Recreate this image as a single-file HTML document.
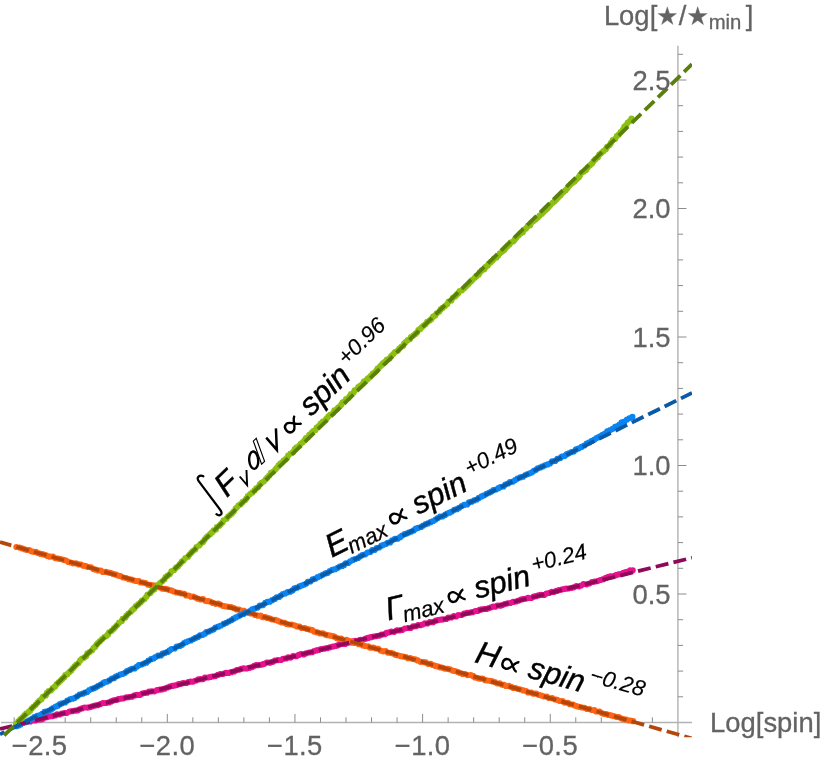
<!DOCTYPE html>
<html><head><meta charset="utf-8"><title>plot</title>
<style>html,body{margin:0;padding:0;background:#fff;}body{width:822px;height:763px;position:relative;overflow:hidden;font-family:"Liberation Sans",sans-serif;}</style></head>
<body>
<svg width="822" height="763" viewBox="0 0 822 763" style="position:absolute;left:0;top:0;will-change:transform">
<defs><clipPath id="cp"><rect x="-5" y="35.7" width="697.0" height="701.5"/></clipPath></defs>
<g stroke="#b2b2b2" stroke-width="1.4" fill="none">
<line x1="1" y1="722.5" x2="692.0" y2="722.5"/>
<line x1="677.9" y1="45.7" x2="677.9" y2="737.2"/>
</g>
<g stroke="#8c8c8c" stroke-width="1" fill="none">
<line x1="14.12" y1="722.5" x2="14.12" y2="717.30"/>
<line x1="39.65" y1="722.5" x2="39.65" y2="713.90"/>
<line x1="65.18" y1="722.5" x2="65.18" y2="717.30"/>
<line x1="90.71" y1="722.5" x2="90.71" y2="717.30"/>
<line x1="116.24" y1="722.5" x2="116.24" y2="717.30"/>
<line x1="141.77" y1="722.5" x2="141.77" y2="717.30"/>
<line x1="167.30" y1="722.5" x2="167.30" y2="713.90"/>
<line x1="192.83" y1="722.5" x2="192.83" y2="717.30"/>
<line x1="218.36" y1="722.5" x2="218.36" y2="717.30"/>
<line x1="243.89" y1="722.5" x2="243.89" y2="717.30"/>
<line x1="269.42" y1="722.5" x2="269.42" y2="717.30"/>
<line x1="294.95" y1="722.5" x2="294.95" y2="713.90"/>
<line x1="320.48" y1="722.5" x2="320.48" y2="717.30"/>
<line x1="346.01" y1="722.5" x2="346.01" y2="717.30"/>
<line x1="371.54" y1="722.5" x2="371.54" y2="717.30"/>
<line x1="397.07" y1="722.5" x2="397.07" y2="717.30"/>
<line x1="422.60" y1="722.5" x2="422.60" y2="713.90"/>
<line x1="448.13" y1="722.5" x2="448.13" y2="717.30"/>
<line x1="473.66" y1="722.5" x2="473.66" y2="717.30"/>
<line x1="499.19" y1="722.5" x2="499.19" y2="717.30"/>
<line x1="524.72" y1="722.5" x2="524.72" y2="717.30"/>
<line x1="550.25" y1="722.5" x2="550.25" y2="713.90"/>
<line x1="575.78" y1="722.5" x2="575.78" y2="717.30"/>
<line x1="601.31" y1="722.5" x2="601.31" y2="717.30"/>
<line x1="626.84" y1="722.5" x2="626.84" y2="717.30"/>
<line x1="652.37" y1="722.5" x2="652.37" y2="717.30"/>
<line x1="677.9" y1="696.80" x2="683.10" y2="696.80"/>
<line x1="677.9" y1="671.10" x2="683.10" y2="671.10"/>
<line x1="677.9" y1="645.40" x2="683.10" y2="645.40"/>
<line x1="677.9" y1="619.70" x2="683.10" y2="619.70"/>
<line x1="677.9" y1="594.00" x2="686.50" y2="594.00"/>
<line x1="677.9" y1="568.30" x2="683.10" y2="568.30"/>
<line x1="677.9" y1="542.60" x2="683.10" y2="542.60"/>
<line x1="677.9" y1="516.90" x2="683.10" y2="516.90"/>
<line x1="677.9" y1="491.20" x2="683.10" y2="491.20"/>
<line x1="677.9" y1="465.50" x2="686.50" y2="465.50"/>
<line x1="677.9" y1="439.80" x2="683.10" y2="439.80"/>
<line x1="677.9" y1="414.10" x2="683.10" y2="414.10"/>
<line x1="677.9" y1="388.40" x2="683.10" y2="388.40"/>
<line x1="677.9" y1="362.70" x2="683.10" y2="362.70"/>
<line x1="677.9" y1="337.00" x2="686.50" y2="337.00"/>
<line x1="677.9" y1="311.30" x2="683.10" y2="311.30"/>
<line x1="677.9" y1="285.60" x2="683.10" y2="285.60"/>
<line x1="677.9" y1="259.90" x2="683.10" y2="259.90"/>
<line x1="677.9" y1="234.20" x2="683.10" y2="234.20"/>
<line x1="677.9" y1="208.50" x2="686.50" y2="208.50"/>
<line x1="677.9" y1="182.80" x2="683.10" y2="182.80"/>
<line x1="677.9" y1="157.10" x2="683.10" y2="157.10"/>
<line x1="677.9" y1="131.40" x2="683.10" y2="131.40"/>
<line x1="677.9" y1="105.70" x2="683.10" y2="105.70"/>
<line x1="677.9" y1="80.00" x2="686.50" y2="80.00"/>
<line x1="677.9" y1="54.30" x2="683.10" y2="54.30"/>
</g>
<g clip-path="url(#cp)" fill="none">
<path d="M16.5 724.7h.01M18.7 724.5h.01M20.8 723.9h.01M23.0 722.8h.01M25.6 722.2h.01M28.0 721.6h.01M30.2 721.4h.01M33.0 720.4h.01M35.4 720.4h.01M38.3 719.6h.01M40.9 719.4h.01M42.9 718.8h.01M45.0 717.5h.01M47.2 717.1h.01M50.0 716.3h.01M52.7 716.1h.01M55.1 715.4h.01M57.1 714.4h.01M59.5 714.5h.01M61.8 713.5h.01M64.5 713.0h.01M66.9 712.8h.01M69.5 711.5h.01M72.1 711.2h.01M75.1 710.7h.01M77.5 710.4h.01M79.5 709.3h.01M82.2 708.3h.01M84.6 707.5h.01M87.5 707.6h.01M90.2 707.1h.01M92.4 706.3h.01M95.0 705.6h.01M97.6 705.2h.01M100.5 704.1h.01M103.0 703.0h.01M105.9 703.0h.01M109.0 702.4h.01M111.2 701.4h.01M113.8 700.3h.01M116.3 699.9h.01M118.4 699.2h.01M121.2 698.6h.01M123.6 698.3h.01M126.4 697.3h.01M129.0 697.1h.01M132.0 696.7h.01M134.7 695.4h.01M137.2 694.9h.01M140.2 694.8h.01M142.2 693.5h.01M144.5 693.0h.01M147.1 692.7h.01M149.2 691.5h.01M151.7 691.3h.01M154.5 691.3h.01M157.1 690.2h.01M159.8 689.7h.01M161.9 689.4h.01M164.7 688.7h.01M167.4 687.5h.01M169.7 686.6h.01M172.4 685.9h.01M174.5 685.5h.01M176.7 685.1h.01M178.7 684.2h.01M180.9 683.8h.01M183.3 683.1h.01M186.3 683.0h.01M188.4 682.1h.01M190.8 681.6h.01M193.1 681.6h.01M196.0 680.5h.01M198.4 679.4h.01M200.6 679.2h.01M203.0 679.1h.01M205.0 677.7h.01M208.1 677.5h.01M210.3 677.0h.01M212.3 676.5h.01M215.4 676.1h.01M218.0 674.8h.01M220.3 674.1h.01M223.2 673.8h.01M226.0 672.9h.01M228.4 672.9h.01M231.4 672.2h.01M234.2 671.4h.01M236.8 670.1h.01M239.4 669.6h.01M241.4 668.8h.01M243.7 668.4h.01M246.6 668.5h.01M249.1 667.9h.01M252.1 667.1h.01M254.3 665.8h.01M256.5 665.2h.01M258.9 665.1h.01M261.9 664.6h.01M264.3 663.8h.01M267.0 662.5h.01M269.9 662.7h.01M272.7 661.8h.01M275.0 660.6h.01M277.9 660.1h.01M280.9 660.0h.01M283.1 658.8h.01M286.2 658.4h.01M288.2 657.3h.01M290.6 657.6h.01M293.2 656.1h.01M296.3 656.2h.01M298.8 654.9h.01M301.3 654.0h.01M303.6 654.4h.01M306.2 653.3h.01M309.1 652.5h.01M312.1 652.2h.01M314.2 651.0h.01M316.5 650.4h.01M319.1 649.8h.01M321.5 649.0h.01M324.5 648.6h.01M327.1 648.2h.01M329.9 647.3h.01M332.9 646.6h.01M335.5 646.0h.01M337.5 645.4h.01M339.6 644.4h.01M342.4 643.9h.01M345.1 643.9h.01M347.6 642.8h.01M350.2 642.4h.01M352.9 641.3h.01M355.5 640.8h.01M357.9 640.8h.01M360.4 639.9h.01M363.3 639.6h.01M365.7 638.7h.01M368.2 637.9h.01M370.9 637.2h.01M373.4 636.6h.01M376.5 636.1h.01M379.4 635.6h.01M381.6 634.7h.01M384.7 634.2h.01M386.6 632.9h.01M389.1 632.3h.01M391.3 631.7h.01M394.2 631.8h.01M397.0 630.4h.01M399.9 630.3h.01M402.1 630.0h.01M404.9 628.5h.01M407.9 628.0h.01M410.6 628.0h.01M413.2 626.4h.01M415.8 626.2h.01M418.1 625.2h.01M420.5 625.2h.01M422.5 624.5h.01M424.9 623.3h.01M427.4 623.4h.01M429.8 622.2h.01M433.0 622.2h.01M435.8 620.7h.01M438.1 620.1h.01M440.9 619.7h.01M443.1 619.3h.01M446.2 619.0h.01M448.3 617.7h.01M451.3 617.4h.01M453.9 616.2h.01M456.1 616.4h.01M458.4 615.1h.01M461.5 615.0h.01M464.2 613.7h.01M467.1 612.9h.01M470.1 612.6h.01M472.5 612.2h.01M475.4 611.1h.01M477.6 610.9h.01M479.7 609.9h.01M481.9 609.3h.01M484.2 609.0h.01M486.6 608.9h.01M488.9 608.1h.01M491.0 607.3h.01M493.1 606.7h.01M495.2 606.7h.01M497.7 605.5h.01M500.3 605.7h.01M502.4 605.1h.01M504.8 604.1h.01M507.6 603.3h.01M510.3 603.0h.01M513.2 601.9h.01M516.1 601.5h.01M518.7 600.6h.01M521.0 599.6h.01M523.1 599.1h.01M526.0 598.6h.01M528.1 597.9h.01M531.2 598.0h.01M533.7 596.7h.01M536.0 596.2h.01M538.4 595.4h.01M540.9 594.9h.01M544.1 594.9h.01M546.5 593.5h.01M549.5 592.8h.01M551.8 591.9h.01M554.3 591.8h.01M556.8 590.9h.01M559.3 590.1h.01M561.6 589.6h.01M564.0 589.0h.01M566.1 588.7h.01M568.4 588.5h.01M571.0 588.0h.01M573.7 587.3h.01M576.5 586.2h.01M579.0 586.3h.01M581.1 585.5h.01M583.6 584.1h.01M586.7 584.3h.01M589.3 583.5h.01M592.0 582.0h.01M594.6 581.6h.01M597.6 581.1h.01M600.4 580.0h.01M603.3 579.2h.01M605.9 577.9h.01M607.9 577.1h.01M610.3 576.4h.01M613.3 576.0h.01M616.0 575.2h.01M618.6 574.3h.01M620.7 574.0h.01M623.4 572.8h.01M626.0 572.2h.01M628.1 571.7h.01M630.2 570.3h.01M632.7 570.3h.01" stroke="#e8108c" stroke-width="6.2" stroke-linecap="round"/>
<path d="M16.4 547.0h.01M19.5 547.6h.01M21.9 548.3h.01M24.5 549.3h.01M27.1 550.0h.01M29.3 550.0h.01M31.4 551.3h.01M33.8 551.8h.01M35.9 551.8h.01M38.0 553.1h.01M40.7 553.9h.01M43.1 554.3h.01M45.5 555.0h.01M47.5 556.0h.01M49.7 556.7h.01M52.9 556.6h.01M55.2 558.1h.01M58.2 558.6h.01M60.6 559.0h.01M63.5 559.8h.01M66.1 560.5h.01M68.4 562.0h.01M70.6 562.5h.01M73.1 563.3h.01M76.0 563.3h.01M78.8 564.4h.01M81.0 564.5h.01M83.3 565.7h.01M85.7 566.0h.01M88.0 566.9h.01M91.0 567.3h.01M93.5 569.0h.01M95.6 569.7h.01M98.3 570.4h.01M100.7 570.5h.01M102.9 571.9h.01M105.7 571.9h.01M108.2 572.5h.01M110.3 572.9h.01M113.1 573.9h.01M116.0 574.7h.01M118.2 575.6h.01M120.4 576.1h.01M123.2 577.5h.01M126.1 578.0h.01M128.9 579.2h.01M131.6 579.7h.01M133.6 580.3h.01M136.0 581.0h.01M138.8 581.2h.01M140.7 582.5h.01M143.0 582.6h.01M145.4 583.1h.01M147.9 584.6h.01M150.2 584.9h.01M152.6 585.4h.01M155.1 585.7h.01M157.2 586.4h.01M160.1 587.5h.01M162.2 588.6h.01M165.3 588.9h.01M167.5 589.3h.01M169.6 590.0h.01M171.7 590.5h.01M173.8 591.5h.01M176.7 592.5h.01M179.2 592.8h.01M181.7 593.5h.01M184.2 593.8h.01M186.2 595.4h.01M188.4 595.6h.01M191.0 596.7h.01M193.4 596.7h.01M195.6 597.5h.01M197.8 598.7h.01M200.7 599.5h.01M203.0 599.1h.01M205.4 600.8h.01M208.0 601.2h.01M210.1 601.6h.01M212.9 602.9h.01M215.7 603.8h.01M218.2 603.5h.01M220.2 604.6h.01M222.8 605.8h.01M225.6 606.3h.01M228.4 606.8h.01M231.1 607.1h.01M233.8 608.1h.01M236.6 609.4h.01M239.1 609.5h.01M241.2 610.7h.01M244.0 610.9h.01M246.0 611.9h.01M248.6 612.5h.01M250.8 613.4h.01M252.9 613.6h.01M255.1 615.0h.01M257.8 615.7h.01M260.5 615.7h.01M262.5 617.1h.01M265.4 617.2h.01M267.4 617.9h.01M270.1 618.6h.01M272.3 619.5h.01M275.3 619.9h.01M277.3 620.6h.01M279.6 621.6h.01M281.8 622.4h.01M284.6 622.8h.01M286.7 624.0h.01M289.1 624.5h.01M291.5 624.5h.01M294.2 625.3h.01M297.1 626.4h.01M299.4 626.7h.01M301.7 627.9h.01M304.8 628.1h.01M307.1 628.9h.01M310.1 629.7h.01M312.2 630.2h.01M314.4 631.7h.01M317.3 632.4h.01M320.2 633.4h.01M322.8 633.3h.01M325.6 634.7h.01M327.6 635.2h.01M330.1 635.6h.01M332.5 636.0h.01M334.4 636.7h.01M336.6 638.1h.01M338.7 638.7h.01M341.1 638.7h.01M343.8 640.0h.01M346.5 639.9h.01M348.8 640.9h.01M351.8 641.5h.01M354.0 643.0h.01M356.1 643.0h.01M358.8 644.2h.01M361.1 644.0h.01M362.9 645.5h.01M365.2 646.0h.01M368.2 646.4h.01M370.3 647.7h.01M373.2 647.7h.01M375.9 648.5h.01M378.2 648.8h.01M380.7 650.6h.01M383.3 651.3h.01M385.6 651.2h.01M387.8 652.6h.01M391.0 652.9h.01M393.2 653.6h.01M395.5 654.8h.01M397.8 655.3h.01M400.5 656.1h.01M403.3 656.6h.01M405.8 657.0h.01M408.0 658.2h.01M410.2 658.1h.01M413.0 659.0h.01M415.1 659.3h.01M417.6 660.4h.01M420.4 661.8h.01M423.6 662.0h.01M425.7 662.4h.01M428.0 663.8h.01M430.6 663.9h.01M432.9 665.0h.01M435.5 665.9h.01M438.4 666.7h.01M440.5 667.4h.01M442.9 667.8h.01M445.2 668.7h.01M447.5 668.8h.01M449.8 669.3h.01M452.6 670.6h.01M454.9 671.0h.01M457.9 672.0h.01M460.0 673.0h.01M462.6 673.9h.01M464.9 674.0h.01M467.6 675.1h.01M470.8 675.1h.01M473.0 675.9h.01M475.0 677.4h.01M477.6 678.1h.01M480.0 678.7h.01M482.6 678.7h.01M485.2 680.2h.01M487.4 680.5h.01M490.1 680.8h.01M492.5 681.4h.01M494.7 682.1h.01M497.2 683.3h.01M499.6 683.3h.01M501.7 684.6h.01M504.0 684.9h.01M506.0 686.0h.01M508.8 685.9h.01M510.8 686.9h.01M513.3 687.9h.01M515.5 688.0h.01M518.2 689.0h.01M520.5 689.5h.01M523.4 690.4h.01M526.0 691.1h.01M528.2 692.4h.01M531.4 692.7h.01M533.5 693.7h.01M535.9 693.6h.01M538.7 694.8h.01M541.5 695.6h.01M544.4 696.5h.01M546.7 696.6h.01M549.0 698.0h.01M552.1 698.2h.01M554.7 699.3h.01M557.2 699.8h.01M559.4 700.8h.01M562.5 701.2h.01M564.7 702.6h.01M567.9 702.8h.01M569.8 704.2h.01M572.9 704.6h.01M574.8 705.6h.01M577.2 706.3h.01M579.9 707.0h.01M582.0 707.5h.01M584.4 707.8h.01M587.1 709.0h.01M589.5 709.0h.01M591.8 710.0h.01M594.3 710.2h.01M596.3 711.5h.01M599.5 711.6h.01M601.8 713.1h.01M603.8 713.8h.01M606.0 714.1h.01M608.5 714.9h.01M610.9 715.3h.01M613.5 716.0h.01M616.2 716.8h.01M618.7 717.1h.01M621.2 718.3h.01M623.4 719.2h.01M626.2 719.7h.01M628.4 720.3h.01M630.6 720.6h.01M633.1 721.2h.01" stroke="#ff6414" stroke-width="6.2" stroke-linecap="round"/>
<path d="M16.5 726.2h.01M18.5 725.4h.01M20.5 724.5h.01M22.9 723.0h.01M24.9 722.0h.01M27.3 721.4h.01M29.2 720.3h.01M32.0 718.8h.01M34.3 717.0h.01M37.3 715.9h.01M40.2 715.0h.01M42.2 713.8h.01M44.6 711.8h.01M47.1 711.4h.01M49.2 710.5h.01M51.3 709.4h.01M53.1 708.1h.01M55.7 706.5h.01M57.9 705.7h.01M59.9 704.2h.01M62.0 703.3h.01M65.0 702.5h.01M67.4 700.6h.01M70.0 699.3h.01M72.6 698.7h.01M74.9 697.8h.01M77.2 696.3h.01M79.6 694.5h.01M82.7 693.7h.01M85.0 692.7h.01M87.2 691.9h.01M89.3 690.1h.01M91.9 688.9h.01M94.1 688.2h.01M96.0 687.3h.01M98.0 686.1h.01M100.8 684.7h.01M103.1 683.2h.01M104.9 682.0h.01M107.2 681.6h.01M109.4 680.4h.01M111.9 678.6h.01M114.2 678.1h.01M115.8 676.6h.01M118.0 675.6h.01M120.3 674.6h.01M122.9 673.8h.01M125.0 672.8h.01M127.0 671.2h.01M129.8 669.9h.01M131.8 668.8h.01M134.6 668.4h.01M137.0 666.6h.01M138.9 665.2h.01M141.6 664.5h.01M143.8 663.5h.01M146.3 662.7h.01M148.5 660.7h.01M151.1 659.2h.01M153.6 658.4h.01M155.5 657.0h.01M158.1 655.7h.01M160.9 655.4h.01M162.6 653.7h.01M165.2 652.8h.01M167.8 651.9h.01M169.6 650.4h.01M171.6 649.1h.01M174.6 648.5h.01M176.8 646.5h.01M179.8 645.9h.01M182.1 644.8h.01M184.1 643.1h.01M186.1 642.2h.01M188.0 641.3h.01M190.8 640.4h.01M193.4 639.1h.01M195.5 637.9h.01M197.9 637.0h.01M200.0 635.4h.01M202.8 634.8h.01M204.8 633.7h.01M206.4 632.2h.01M208.7 631.6h.01M211.4 630.3h.01M213.7 629.3h.01M215.5 627.6h.01M218.4 626.7h.01M221.0 625.5h.01M223.7 623.9h.01M226.4 622.8h.01M229.0 621.3h.01M231.6 620.1h.01M233.5 618.7h.01M235.9 617.4h.01M238.7 616.1h.01M240.5 615.1h.01M243.4 614.0h.01M245.2 612.7h.01M247.5 612.5h.01M249.9 611.2h.01M252.2 609.4h.01M254.7 608.5h.01M257.6 607.6h.01M259.9 605.5h.01M263.0 605.1h.01M265.3 602.9h.01M267.4 601.9h.01M269.7 601.7h.01M272.2 600.2h.01M274.8 598.9h.01M276.7 597.3h.01M279.0 597.0h.01M280.8 595.5h.01M282.9 594.1h.01M285.2 593.4h.01M287.7 592.2h.01M290.2 591.7h.01M292.5 590.4h.01M294.5 588.4h.01M297.0 587.7h.01M299.5 586.4h.01M302.1 585.3h.01M304.3 584.6h.01M306.3 583.6h.01M307.9 581.8h.01M310.3 581.5h.01M312.7 579.4h.01M315.3 578.7h.01M317.7 577.2h.01M320.1 576.2h.01M322.7 574.8h.01M325.5 573.4h.01M327.8 572.8h.01M329.8 571.1h.01M332.3 569.9h.01M335.2 569.2h.01M337.7 567.8h.01M339.8 566.5h.01M342.3 565.9h.01M344.2 564.9h.01M345.8 563.3h.01M348.2 563.0h.01M350.3 561.3h.01M352.9 559.9h.01M355.4 559.0h.01M358.1 558.0h.01M360.3 556.3h.01M362.4 555.1h.01M365.3 554.3h.01M367.6 552.5h.01M370.2 552.0h.01M372.3 550.2h.01M374.9 549.8h.01M376.7 548.1h.01M379.1 547.5h.01M381.5 545.7h.01M383.5 544.8h.01M385.8 544.0h.01M387.7 542.8h.01M390.1 542.4h.01M392.2 540.3h.01M395.0 538.9h.01M397.6 538.7h.01M400.1 537.2h.01M402.1 535.5h.01M404.6 534.2h.01M406.7 533.5h.01M408.7 532.6h.01M411.4 531.6h.01M413.7 530.4h.01M415.8 528.7h.01M418.3 527.8h.01M421.1 527.0h.01M423.2 525.6h.01M425.7 524.2h.01M427.9 523.4h.01M430.6 522.2h.01M433.2 521.0h.01M435.6 519.6h.01M437.7 518.1h.01M440.1 516.7h.01M442.7 516.3h.01M445.1 514.9h.01M447.1 513.6h.01M449.5 512.7h.01M451.8 511.6h.01M454.3 509.8h.01M457.0 509.2h.01M459.1 507.8h.01M461.7 506.0h.01M464.1 504.9h.01M467.1 504.4h.01M469.0 502.4h.01M471.6 501.7h.01M474.2 500.4h.01M476.8 499.5h.01M478.9 497.9h.01M481.6 496.4h.01M484.2 495.3h.01M486.6 493.8h.01M489.5 492.6h.01M491.4 491.6h.01M493.5 490.2h.01M496.0 489.5h.01M498.4 488.2h.01M500.5 487.0h.01M503.4 486.5h.01M505.4 484.6h.01M508.1 483.5h.01M510.0 482.2h.01M513.0 481.6h.01M515.2 480.1h.01M517.5 478.6h.01M520.3 477.4h.01M523.0 476.7h.01M525.5 475.0h.01M527.7 474.0h.01M529.8 473.3h.01M532.0 472.3h.01M533.9 470.8h.01M536.0 469.8h.01M537.8 468.3h.01M540.5 467.4h.01M542.6 466.4h.01M545.0 465.3h.01M547.6 464.4h.01M549.9 463.5h.01M552.1 461.4h.01M555.2 460.9h.01M557.4 458.9h.01M560.3 458.0h.01M561.9 456.5h.01M564.9 455.8h.01M566.8 454.2h.01M568.8 453.3h.01M571.5 452.1h.01M573.7 451.5h.01M576.0 449.4h.01M578.9 448.3h.01M581.5 446.9h.01M584.3 445.5h.01M586.6 443.5h.01M589.3 442.4h.01M591.8 440.9h.01M594.6 439.6h.01M596.5 438.1h.01M598.6 437.2h.01M600.6 436.1h.01M602.6 434.9h.01M604.9 433.5h.01M607.3 431.3h.01M610.2 430.1h.01M612.7 428.8h.01M615.2 426.9h.01M617.7 426.1h.01M619.5 424.6h.01M621.7 422.4h.01M624.4 421.6h.01M627.0 419.5h.01M629.9 418.0h.01M632.4 416.9h.01" stroke="#0a84f2" stroke-width="6.2" stroke-linecap="round"/>
<path d="M16.7 723.5h.01M18.3 721.3h.01M20.5 719.2h.01M22.4 717.5h.01M24.3 715.3h.01M26.2 713.7h.01M28.5 712.1h.01M30.2 710.5h.01M31.7 708.5h.01M33.4 706.8h.01M35.7 704.8h.01M37.6 702.5h.01M39.3 700.8h.01M41.4 699.2h.01M43.1 696.7h.01M45.7 695.4h.01M47.0 692.9h.01M48.7 691.2h.01M51.0 690.3h.01M52.7 688.2h.01M55.0 686.4h.01M56.7 684.2h.01M58.7 682.4h.01M60.7 680.5h.01M62.3 678.9h.01M64.2 677.2h.01M65.3 675.2h.01M67.3 674.2h.01M69.4 672.0h.01M71.3 670.4h.01M73.1 668.1h.01M74.6 666.3h.01M76.4 664.6h.01M78.5 663.0h.01M80.2 660.4h.01M82.1 658.6h.01M84.3 657.6h.01M86.3 655.9h.01M87.4 653.4h.01M89.6 652.1h.01M92.1 650.3h.01M93.5 648.0h.01M95.3 646.7h.01M96.5 644.7h.01M97.9 643.1h.01M100.0 641.2h.01M102.2 639.1h.01M104.4 637.0h.01M106.3 636.0h.01M108.0 634.4h.01M109.1 632.3h.01M111.7 630.8h.01M113.8 628.7h.01M115.3 627.1h.01M117.2 625.0h.01M119.2 622.7h.01M121.8 620.9h.01M122.7 618.9h.01M125.3 617.6h.01M126.5 615.7h.01M128.4 613.6h.01M130.8 611.8h.01M132.2 610.2h.01M134.2 608.4h.01M135.9 606.2h.01M138.2 604.4h.01M140.4 602.6h.01M142.0 600.7h.01M144.5 599.1h.01M146.3 596.8h.01M147.6 594.7h.01M150.3 593.1h.01M152.1 590.7h.01M154.5 589.3h.01M156.4 587.0h.01M157.9 585.2h.01M160.1 583.0h.01M162.2 581.3h.01M164.5 579.3h.01M165.6 577.0h.01M167.6 575.7h.01M169.9 574.1h.01M171.4 571.4h.01M174.1 570.0h.01M176.1 567.7h.01M178.0 566.3h.01M179.9 564.1h.01M181.8 561.7h.01M183.6 560.4h.01M185.4 558.1h.01M188.0 556.7h.01M189.4 554.8h.01M191.3 552.7h.01M192.8 551.0h.01M195.2 549.4h.01M196.5 547.0h.01M199.1 545.5h.01M200.6 543.8h.01M203.0 541.9h.01M204.6 539.7h.01M206.3 537.6h.01M207.9 536.0h.01M210.1 534.2h.01M212.0 532.4h.01M213.7 530.4h.01M215.9 529.5h.01M216.9 527.1h.01M219.4 525.7h.01M220.9 524.0h.01M222.6 522.2h.01M223.7 520.3h.01M226.6 518.7h.01M228.2 516.6h.01M230.0 515.1h.01M232.0 513.4h.01M233.9 511.3h.01M235.7 508.6h.01M237.2 507.0h.01M238.7 505.3h.01M240.6 504.2h.01M242.7 501.9h.01M245.2 500.1h.01M246.5 498.3h.01M247.9 496.1h.01M250.2 494.0h.01M252.4 492.4h.01M254.7 490.2h.01M256.3 488.3h.01M258.3 487.1h.01M259.9 484.3h.01M261.5 482.8h.01M263.7 481.5h.01M265.8 479.3h.01M267.3 477.7h.01M269.2 475.6h.01M271.0 472.9h.01M273.1 471.8h.01M275.3 469.6h.01M276.9 467.8h.01M278.6 465.4h.01M280.4 463.7h.01M282.2 462.3h.01M283.6 460.5h.01M285.5 459.3h.01M287.1 457.8h.01M288.2 455.6h.01M290.5 453.6h.01M293.2 451.9h.01M294.8 449.2h.01M296.6 447.3h.01M299.3 445.7h.01M301.0 443.5h.01M303.0 442.1h.01M304.7 440.1h.01M306.0 438.2h.01M307.9 437.1h.01M309.3 434.8h.01M311.6 432.8h.01M313.3 431.0h.01M315.5 429.9h.01M316.7 427.7h.01M318.7 426.0h.01M320.7 423.7h.01M322.9 421.5h.01M325.5 419.9h.01M327.0 418.1h.01M328.5 416.3h.01M330.2 414.8h.01M333.0 413.1h.01M334.4 410.3h.01M336.8 409.2h.01M338.2 407.6h.01M340.1 406.1h.01M341.4 404.5h.01M342.7 402.3h.01M344.7 401.4h.01M346.1 399.0h.01M348.4 397.9h.01M349.8 396.0h.01M351.1 394.1h.01M353.6 392.5h.01M354.7 390.4h.01M356.7 389.3h.01M358.3 387.2h.01M360.2 385.9h.01M362.4 384.1h.01M363.8 381.7h.01M365.8 380.7h.01M367.6 378.9h.01M369.2 377.5h.01M370.9 375.8h.01M372.8 373.6h.01M374.6 372.5h.01M376.4 370.7h.01M377.6 368.6h.01M379.8 366.8h.01M381.4 365.2h.01M383.1 363.1h.01M385.3 361.7h.01M386.9 359.7h.01M389.5 358.4h.01M391.2 356.0h.01M393.3 354.1h.01M395.1 352.0h.01M397.9 350.6h.01M399.4 348.6h.01M401.3 346.8h.01M403.2 345.7h.01M404.2 343.6h.01M405.8 342.1h.01M407.8 340.0h.01M409.9 339.1h.01M411.0 337.0h.01M413.3 335.6h.01M415.3 333.9h.01M417.0 332.6h.01M418.4 330.1h.01M420.3 328.9h.01M422.0 327.0h.01M423.7 325.6h.01M425.4 324.3h.01M427.2 321.9h.01M429.6 320.6h.01M431.3 319.2h.01M433.1 316.7h.01M435.2 315.4h.01M436.8 313.3h.01M439.3 311.5h.01M440.6 309.4h.01M442.5 307.9h.01M445.0 306.1h.01M447.2 304.1h.01M448.7 301.5h.01M451.3 300.4h.01M452.9 297.8h.01M455.0 296.4h.01M456.7 294.7h.01M458.2 293.2h.01M459.7 291.1h.01M462.0 290.3h.01M464.1 288.3h.01M465.9 286.4h.01M468.1 284.4h.01M469.5 282.8h.01M471.2 281.2h.01M472.8 279.5h.01M475.0 277.5h.01M476.6 275.9h.01M478.7 274.5h.01M479.9 272.4h.01M481.8 270.4h.01M484.3 269.2h.01M485.7 266.9h.01M487.7 265.4h.01M489.0 263.5h.01M490.7 262.2h.01M492.5 260.5h.01M494.0 258.7h.01M496.5 257.5h.01M498.2 255.5h.01M499.9 253.3h.01M502.2 251.6h.01M504.2 249.9h.01M505.8 247.9h.01M507.4 246.2h.01M509.4 244.5h.01M511.0 242.3h.01M513.4 241.3h.01M514.8 239.4h.01M516.5 237.4h.01M518.7 235.3h.01M520.7 233.2h.01M522.8 232.2h.01M524.0 229.9h.01M526.0 228.4h.01M527.8 226.2h.01M530.1 225.3h.01M531.5 222.6h.01M533.4 221.1h.01M535.6 219.4h.01M537.9 217.5h.01M539.7 215.6h.01M541.8 213.7h.01M543.6 211.9h.01M545.7 210.0h.01M547.3 208.5h.01M548.7 206.9h.01M550.4 204.9h.01M552.7 202.8h.01M554.7 201.2h.01M556.7 199.0h.01M558.3 197.2h.01M560.3 195.6h.01M561.8 193.6h.01M563.7 191.7h.01M565.7 190.2h.01M567.6 187.9h.01M569.2 185.8h.01M570.9 184.0h.01M573.1 182.4h.01M575.0 181.1h.01M576.6 179.3h.01M578.8 177.2h.01M580.1 175.2h.01M581.9 172.6h.01M583.9 171.5h.01M586.0 169.9h.01M587.8 167.5h.01M590.0 165.3h.01M592.0 163.4h.01M593.5 161.3h.01M595.4 159.2h.01M597.9 157.2h.01M599.3 154.7h.01M601.3 153.1h.01M603.4 151.2h.01M605.8 149.2h.01M607.2 146.9h.01M609.6 145.1h.01M611.0 142.8h.01M612.8 140.1h.01M615.2 138.8h.01M616.9 136.0h.01M618.8 134.5h.01M620.7 132.1h.01M623.0 129.5h.01M624.3 126.8h.01M626.2 125.1h.01M627.8 122.6h.01M629.8 121.0h.01M631.5 118.5h.01" stroke="#8cbf10" stroke-width="6.2" stroke-linecap="round"/>
<line x1="0" y1="729.00" x2="692.0" y2="557.80" stroke="#8e0a58" stroke-width="3.8" stroke-dasharray="13.05 5.22" stroke-dashoffset="0.5"/>
<line x1="0" y1="542.10" x2="692.0" y2="738.40" stroke="#b4460a" stroke-width="3.8" stroke-dasharray="13.05 5.22" stroke-dashoffset="1.26"/>
<line x1="0" y1="734.30" x2="692.0" y2="392.90" stroke="#0b5aa6" stroke-width="3.8" stroke-dasharray="13.05 5.22" stroke-dashoffset="8.0"/>
<line x1="4.1" y1="735.40" x2="692.0" y2="64.20" stroke="#5a800c" stroke-width="3.8" stroke-dasharray="13.05 5.22" stroke-dashoffset="0"/>
</g>
<g font-family="Liberation Sans, sans-serif" font-size="27.4" fill="#636363" stroke="#636363" stroke-width="0.3">
<text x="39.6" y="755.3" text-anchor="middle" letter-spacing="0.4">−2.5</text>
<text x="167.3" y="755.3" text-anchor="middle" letter-spacing="0.4">−2.0</text>
<text x="294.9" y="755.3" text-anchor="middle" letter-spacing="0.4">−1.5</text>
<text x="422.6" y="755.3" text-anchor="middle" letter-spacing="0.4">−1.0</text>
<text x="550.2" y="755.3" text-anchor="middle" letter-spacing="0.4">−0.5</text>
<text x="670.6" y="603.6" text-anchor="end">0.5</text>
<text x="670.6" y="475.1" text-anchor="end">1.0</text>
<text x="670.6" y="346.6" text-anchor="end">1.5</text>
<text x="670.6" y="218.1" text-anchor="end">2.0</text>
<text x="670.6" y="89.6" text-anchor="end">2.5</text>
<text x="710.1" y="731.5" font-size="27.4">Log[spin]</text>
<text x="603.9" y="24.7" font-size="27.4">Log</text>
<text x="649.7" y="24.7" font-size="27.4">[</text>
<polygon points="667.30,6.80 669.50,13.57 676.62,13.57 670.86,17.76 673.06,24.53 667.30,20.34 661.54,24.53 663.74,17.76 657.98,13.57 665.10,13.57" fill="#636363"/>
<text x="678.7" y="24.7" font-size="27.4">/</text>
<polygon points="697.70,6.60 699.95,13.51 707.21,13.51 701.33,17.78 703.58,24.69 697.70,20.42 691.82,24.69 694.07,17.78 688.19,13.51 695.45,13.51" fill="#636363"/>
<text x="708.7" y="29.2" font-size="20.3">min</text>
<text x="745.8" y="24.7" font-size="27.4">]</text>
</g>
<g transform="translate(227.4,497.3) rotate(-43.8)" font-family="Liberation Sans, sans-serif" font-style="italic" fill="#000" stroke="#000" stroke-width="0.45"><path d="M-19.6 4.6 C-19.2 8.6 -14.6 9.6 -13.9 4.3 L-9.6 -31.2 C-8.9 -36.4 -4.3 -35.6 -2.8 -31.8" fill="none" stroke="#000" stroke-width="2.2" stroke-linecap="round"/><text x="-1.0" y="0.0" font-size="32.394999999999996">F</text><path d="M23.27 -6.50 L22.70 4.80 L32.64 -6.50" fill="none" stroke="#000" stroke-width="1.9" stroke-linejoin="miter" stroke-miterlimit="6"/><ellipse cx="44.7" cy="-8.6" rx="4.5" ry="8.7" transform="rotate(39 44.7 -8.6)" fill="none" stroke="#000" stroke-width="2.4"/><path d="M57.6 -22.6 L61.6 -22.6 L51.7 -0.2 L47.6 -0.2 Z" fill="#fff" stroke="#000" stroke-width="1.15" stroke-linejoin="miter"/><path d="M69.31 -16.20 L68.50 0.00 L82.76 -16.20" fill="none" stroke="#000" stroke-width="2.5" stroke-linejoin="miter" stroke-miterlimit="6"/><path d="M104.90 -12.10 C100.42 -12.10 98.18 -2.30 93.70 -2.30 C90.50 -2.30 88.90 -4.46 88.90 -7.20 C88.90 -9.94 90.50 -12.10 93.70 -12.10 C98.18 -12.10 100.42 -2.30 104.90 -2.30" fill="none" stroke="#000" stroke-width="2.4"/><text x="115.9" y="0.0" font-size="31.0">spin</text><text stroke-width="0.15" x="176.6" y="-12.6" font-size="22.3">+0.96</text></g>
<g transform="translate(332.6,557.2) rotate(-26.3)" font-family="Liberation Sans, sans-serif" font-style="italic" fill="#000" stroke="#000" stroke-width="0.45"><text x="-1.0" y="0.0" font-size="32.394999999999996">E</text><text stroke-width="0.25" x="18.6" y="5.6" font-size="22.3">max</text><path d="M84.50 -12.10 C80.02 -12.10 77.78 -2.30 73.30 -2.30 C70.10 -2.30 68.50 -4.46 68.50 -7.20 C68.50 -9.94 70.10 -12.10 73.30 -12.10 C77.78 -12.10 80.02 -2.30 84.50 -2.30" fill="none" stroke="#000" stroke-width="2.4"/><text x="95.4" y="0.0" font-size="31.0">spin</text><text stroke-width="0.15" x="158.4" y="-12.6" font-size="22.3">+0.49</text></g>
<g transform="translate(389.1,620.2) rotate(-13.8)" font-family="Liberation Sans, sans-serif" font-style="italic" fill="#000" stroke="#000" stroke-width="0.45"><text x="-1.0" y="0.0" font-size="32.394999999999996">Γ</text><text stroke-width="0.25" x="14.7" y="5.6" font-size="22.3">max</text><path d="M79.40 -12.10 C74.92 -12.10 72.68 -2.30 68.20 -2.30 C65.00 -2.30 63.40 -4.46 63.40 -7.20 C63.40 -9.94 65.00 -12.10 68.20 -12.10 C72.68 -12.10 74.92 -2.30 79.40 -2.30" fill="none" stroke="#000" stroke-width="2.4"/><text x="90.2" y="0.0" font-size="31.0">spin</text><text stroke-width="0.15" x="151.5" y="-12.6" font-size="22.3">+0.24</text></g>
<g transform="translate(474.7,662.3) rotate(15.8)" font-family="Liberation Sans, sans-serif" font-style="italic" fill="#000" stroke="#000" stroke-width="0.45"><text x="-1.0" y="0.0" font-size="32.394999999999996">H</text><path d="M43.00 -12.10 C38.52 -12.10 36.28 -2.30 31.80 -2.30 C28.60 -2.30 27.00 -4.46 27.00 -7.20 C27.00 -9.94 28.60 -12.10 31.80 -12.10 C36.28 -12.10 38.52 -2.30 43.00 -2.30" fill="none" stroke="#000" stroke-width="2.4"/><text x="54.2" y="0.0" font-size="31.0">spin</text><text stroke-width="0.15" x="114.6" y="-12.6" font-size="22.3">−0.28</text></g>
</svg>
</body></html>
